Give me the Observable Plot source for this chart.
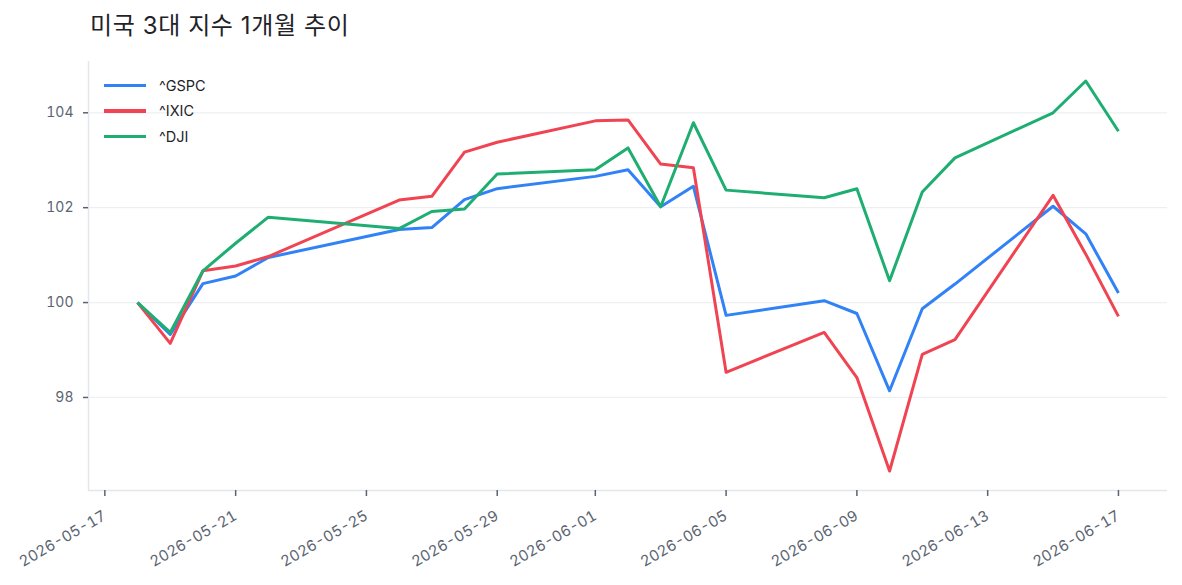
<!DOCTYPE html>
<html>
<head>
<meta charset="utf-8">
<script src="https://cdn.jsdelivr.net/npm/d3@7"></script>
<script src="https://cdn.jsdelivr.net/npm/@observablehq/plot@0.6"></script>
<style>
  html, body { margin: 0; padding: 0; background: #fff; }
  #wrap { position: relative; width: 1182px; height: 585px; overflow: hidden; font-family: Inter, "Noto Sans CJK KR", sans-serif; }
  #title { position: absolute; left: 90px; top: 6px; font-size: 24px; color: #1f2329; font-family: Inter, "Noto Sans CJK KR", sans-serif; letter-spacing: 0.6px; }
  #chart { position: absolute; left: 0; top: 50px; }
  #legend { position: absolute; left: 104px; top: 74px; }
  .item { position: relative; height: 25.5px; width: 200px; }
  .swatch { position: absolute; left: 0; top: 9.5px; width: 42px; height: 3.5px; }
  .lab { position: absolute; left: 55px; top: 2.5px; font-size: 14.5px; color: #1f2329; line-height: 18px; }
</style>
</head>
<body>
<div id="wrap">
  <div id="title">미국 3대 지수 1개월 추이</div>
  <div id="chart"></div>
  <div id="legend"></div>
</div>
<script>
const dates = ["2026-05-18","2026-05-19","2026-05-20","2026-05-21","2026-05-22","2026-05-26","2026-05-27","2026-05-28","2026-05-29","2026-06-01","2026-06-02","2026-06-03","2026-06-04","2026-06-05","2026-06-08","2026-06-09","2026-06-10","2026-06-11","2026-06-12","2026-06-15","2026-06-16","2026-06-17"];
const gspc = [100, 99.33, 100.40, 100.56, 100.95, 101.54, 101.58, 102.17, 102.40, 102.66, 102.80, 102.02, 102.45, 99.73, 100.04, 99.77, 98.14, 99.87, 100.39, 102.03, 101.45, 100.20];
const ixic = [100, 99.14, 100.67, 100.77, 100.97, 102.16, 102.24, 103.17, 103.38, 103.83, 103.85, 102.92, 102.84, 98.53, 99.37, 98.42, 96.45, 98.91, 99.22, 102.26, 101.02, 99.71];
const dji  = [100, 99.37, 100.67, 101.25, 101.80, 101.56, 101.92, 101.97, 102.71, 102.80, 103.26, 102.02, 103.79, 102.37, 102.21, 102.40, 100.46, 102.33, 103.05, 104.00, 104.67, 103.61];
const seriesNames = ["^GSPC", "^IXIC", "^DJI"];
const seriesColors = ["#3182f6", "#f04452", "#1fae72"];
const xTickLabels = ["2026-05-17","2026-05-21","2026-05-25","2026-05-29","2026-06-01","2026-06-05","2026-06-09","2026-06-13","2026-06-17"];
const yTicks = [98, 100, 102, 104];
const title = "미국 3대 지수 1개월 추이";

const parse = d3.utcParse("%Y-%m-%d");
const seriesValues = [gspc, ixic, dji];
const rows = [];
seriesNames.forEach((name, i) => {
  dates.forEach((d, j) => rows.push({series: name, date: parse(d), value: seriesValues[i][j]}));
});

// matplotlib-like 5% margins
const tExt = d3.extent(rows, r => r.date);
const tSpan = tExt[1] - tExt[0];
const xDomain = [new Date(+tExt[0] - 0.05 * tSpan), new Date(+tExt[1] + 0.05 * tSpan)];
const vExt = d3.extent(rows, r => r.value);
const vSpan = vExt[1] - vExt[0];
const yDomain = [vExt[0] - 0.05 * vSpan, vExt[1] + 0.05 * vSpan];

document.getElementById("title").textContent = title;

const chart = Plot.plot({
  width: 1182,
  height: 535,
  marginTop: 11,
  marginBottom: 95,
  marginLeft: 88,
  marginRight: 15,
  style: {fontFamily: 'Inter, "Noto Sans CJK KR", sans-serif', fontSize: "14px", color: "#5b6472", background: "#fff"},
  x: {type: "utc", domain: xDomain, label: null},
  y: {domain: yDomain, label: null},
  color: {domain: seriesNames, range: seriesColors},
  marks: [
    Plot.gridY(yTicks, {stroke: "#eeeff2", strokeOpacity: 1, strokeWidth: 1.3}),
    Plot.ruleX([xDomain[0]], {stroke: "#e4e6ea", strokeWidth: 1.5}),
    Plot.ruleY([yDomain[0]], {stroke: "#e4e6ea", strokeWidth: 1.5}),
    Plot.axisY(yTicks, {tickSize: 5, tickPadding: 10, label: null, strokeWidth: 1.5}),
    Plot.axisX(xTickLabels.map(parse), {tickSize: 6, tickPadding: 18, tickRotate: -30, fontSize: 15, label: null, tickFormat: d3.utcFormat("%Y-%m-%d"), strokeWidth: 1.5}),
    Plot.line(rows, {x: "date", y: "value", z: "series", stroke: "series", strokeWidth: 3, strokeLinejoin: "round", strokeLinecap: "butt"})
  ]
});
document.getElementById("chart").appendChild(chart);

const legend = document.getElementById("legend");
seriesNames.forEach((name, i) => {
  const item = document.createElement("div");
  item.className = "item";
  const sw = document.createElement("div");
  sw.className = "swatch";
  sw.style.background = seriesColors[i];
  const lab = document.createElement("div");
  lab.className = "lab";
  lab.textContent = name;
  item.appendChild(sw);
  item.appendChild(lab);
  legend.appendChild(item);
});
</script>
</body>
</html>
